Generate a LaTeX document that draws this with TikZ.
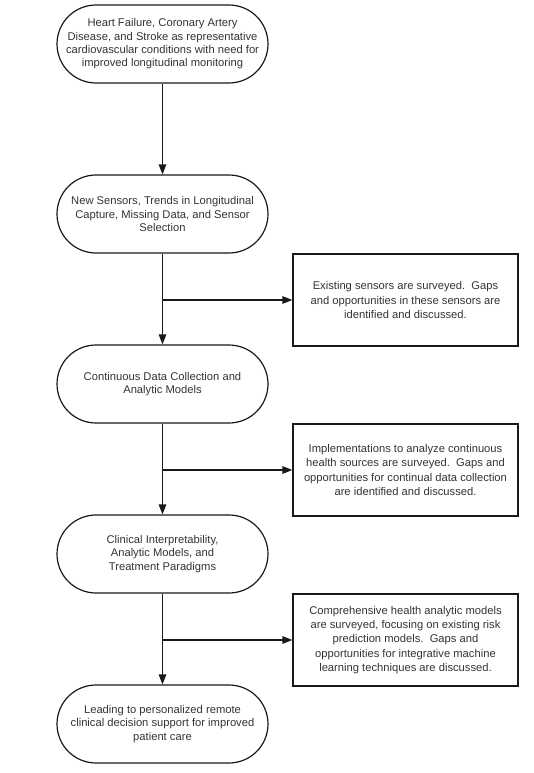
\documentclass[tikz,border=0pt]{standalone}
\usepackage{fontspec}
\setmainfont{Liberation Sans}
\usetikzlibrary{arrows.meta}
\begin{document}
\begin{tikzpicture}[x=1pt,y=-1pt,
  every node/.style={font=\fontsize{11.2}{13.3}\selectfont, text=black!80, align=center},
  stadium/.style={draw=black!90, line width=1.2pt, rounded corners=39pt, minimum width=211pt, minimum height=78pt, inner sep=0pt},
  note/.style={draw=black!90, line width=1.2pt, minimum width=225pt, minimum height=92pt, inner sep=0pt, font=\fontsize{11.2}{14.1}\selectfont},
  conn/.style={draw=black!90, line width=1.2pt, -{Triangle[length=10pt,width=7.5pt]}}]
\useasboundingbox (0,0) rectangle (533,773);
\node[stadium] (n1) at (162.5,44) {Heart Failure, Coronary Artery\\Disease, and Stroke as representative\\cardiovascular conditions with need for\\improved longitudinal monitoring};
\node[stadium] (n2) at (162.5,214) {New Sensors, Trends in Longitudinal\\Capture, Missing Data, and Sensor\\Selection};
\node[stadium] (n3) at (162.5,384) {Continuous Data Collection and\\Analytic Models};
\node[stadium] (n4) at (162.5,554) {Clinical Interpretability,\\Analytic Models, and\\Treatment Paradigms};
\node[stadium] (n5) at (162.5,724) {Leading to personalized remote\\clinical decision support for improved\\patient care};
\node[note] (b1) at (405.5,300) {Existing sensors are surveyed.\ \ Gaps\\and opportunities in these sensors are\\identified and discussed.};
\node[note] (b2) at (405.5,470) {Implementations to analyze continuous\\health sources are surveyed.\ \ Gaps and\\opportunities for continual data collection\\are identified and discussed.};
\node[note] (b3) at (405.5,640) {Comprehensive health analytic models\\are surveyed, focusing on existing risk\\prediction models.\ \ Gaps and\\opportunities for integrative machine\\learning techniques are discussed.};
\draw[conn] (n1) -- (n2);
\draw[conn] (n2) -- (n3);
\draw[conn] (n3) -- (n4);
\draw[conn] (n4) -- (n5);
\draw[conn] (n2.south |- b1.west) -- (b1.west);
\draw[conn] (n3.south |- b2.west) -- (b2.west);
\draw[conn] (n4.south |- b3.west) -- (b3.west);
\end{tikzpicture}
\end{document}
